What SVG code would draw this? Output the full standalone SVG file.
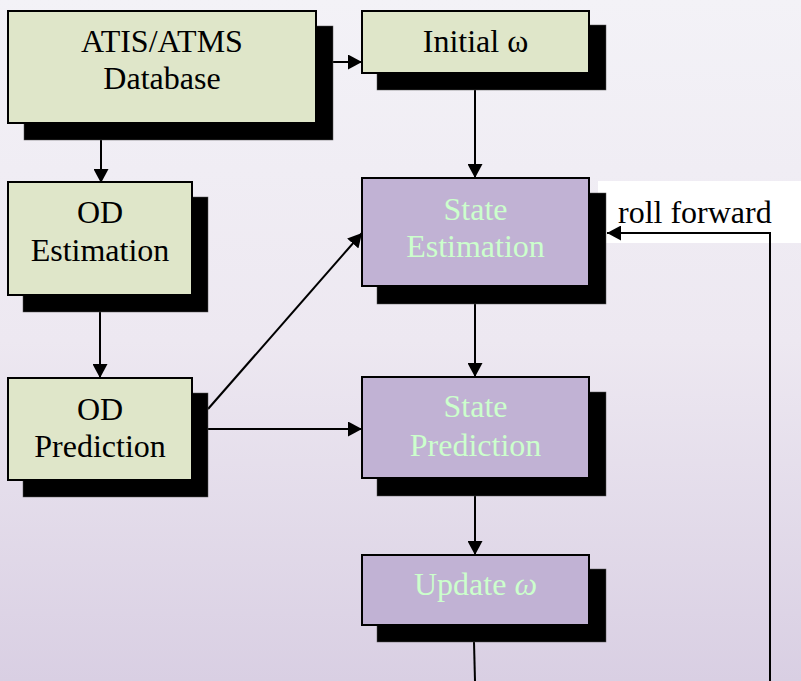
<svg xmlns="http://www.w3.org/2000/svg" width="801" height="681" viewBox="0 0 801 681">
<defs>
<linearGradient id="bg" x1="0" y1="0" x2="0" y2="1">
<stop offset="0" stop-color="#F3F2F7"/>
<stop offset="0.5" stop-color="#EDE8F1"/>
<stop offset="1" stop-color="#D9CFE3"/>
</linearGradient>
<marker id="ah" markerUnits="userSpaceOnUse" markerWidth="15" markerHeight="15" refX="14" refY="7.5" orient="auto">
<path d="M0,0 L14,7.5 L0,15 Z" fill="#000"/>
</marker>
<style>
.sh{fill:#000;stroke:#555;stroke-width:0.5}
.g{fill:#DFE6C9;stroke:#000;stroke-width:2}
.p{fill:#C1B2D4;stroke:#000;stroke-width:2}
text{font-family:'Liberation Serif','Tinos','Times New Roman','DejaVu Serif',serif;font-size:32px}
.t{text-anchor:middle;fill:#000}
.tp{text-anchor:middle;fill:#CCFFCC}
.c{fill:none;stroke:#000;stroke-width:2}
</style>
</defs>
<rect x="0" y="0" width="801" height="681" fill="url(#bg)"/>
<g id="roll-forward-label">
<rect x="598" y="181" width="203" height="62" fill="#FFFFFF"/>
<text x="618" y="223" fill="#000" font-family="Liberation Serif, DejaVu Serif, serif">roll forward</text>
</g>
<g id="connectors">
<line class="c" x1="333" y1="62" x2="362" y2="62" marker-end="url(#ah)"/>
<line class="c" x1="101" y1="140" x2="101" y2="183" marker-end="url(#ah)"/>
<line class="c" x1="475" y1="90" x2="475" y2="178" marker-end="url(#ah)"/>
<line class="c" x1="100" y1="312" x2="100" y2="378" marker-end="url(#ah)"/>
<line class="c" x1="208" y1="409" x2="362" y2="233" marker-end="url(#ah)"/>
<line class="c" x1="208" y1="429" x2="362" y2="429" marker-end="url(#ah)"/>
<line class="c" x1="475" y1="304" x2="475" y2="377" marker-end="url(#ah)"/>
<line class="c" x1="475" y1="496" x2="475" y2="555" marker-end="url(#ah)"/>
<line class="c" x1="474" y1="642" x2="475" y2="681"/>
<polyline class="c" points="770,681 770,233 607,233" marker-end="url(#ah)"/>
</g>
<g id="atis">
<rect class="sh" x="24" y="26" width="309" height="114"/>
<rect class="g" x="8" y="11" width="308" height="112"/>
<text class="t" x="162" y="52">ATIS/ATMS</text>
<text class="t" x="162" y="89">Database</text>
</g>
<g id="initial">
<rect class="sh" x="377" y="25" width="229" height="65"/>
<rect class="g" x="362" y="11" width="227" height="62"/>
<text class="t" x="475.5" y="52">Initial ω</text>
</g>
<g id="od-estimation">
<rect class="sh" x="23" y="197" width="185" height="115"/>
<rect class="g" x="8" y="182" width="184" height="113"/>
<text class="t" x="100" y="223">OD</text>
<text class="t" x="100" y="261">Estimation</text>
</g>
<g id="od-prediction">
<rect class="sh" x="23" y="393" width="185" height="104"/>
<rect class="g" x="8" y="378" width="184" height="102"/>
<text class="t" x="100" y="420">OD</text>
<text class="t" x="100" y="457">Prediction</text>
</g>
<g id="state-estimation">
<rect class="sh" x="377" y="193" width="229" height="111"/>
<rect class="p" x="362" y="178" width="227" height="108"/>
<text class="tp" x="475.5" y="220">State</text>
<text class="tp" x="475.5" y="257">Estimation</text>
</g>
<g id="state-prediction">
<rect class="sh" x="377" y="392" width="229" height="104"/>
<rect class="p" x="362" y="377" width="227" height="101"/>
<text class="tp" x="475.5" y="417">State</text>
<text class="tp" x="475.5" y="456">Prediction</text>
</g>
<g id="update">
<rect class="sh" x="377" y="569" width="229" height="73"/>
<rect class="p" x="362" y="555" width="227" height="70"/>
<text class="tp" x="475.5" y="595">Update <tspan font-style="italic">ω</tspan></text>
</g>
</svg>
